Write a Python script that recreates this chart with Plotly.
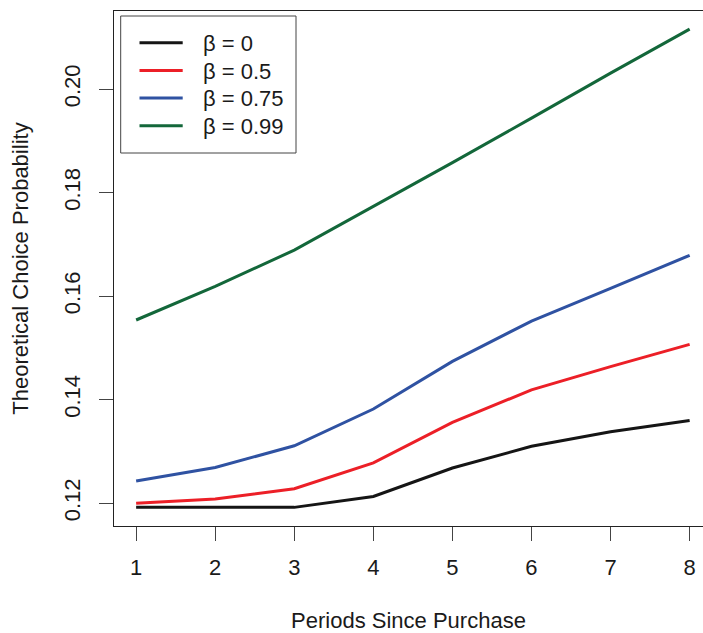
import plotly.graph_objects as go

periods = [1, 2, 3, 4, 5, 6, 7, 8]
beta_labels = ["β = 0", "β = 0.5", "β = 0.75", "β = 0.99"]
beta_0 = [0.1192, 0.1192, 0.1192, 0.1213, 0.1268, 0.1310, 0.1338, 0.1360]
beta_05 = [0.1200, 0.1208, 0.1228, 0.1278, 0.1356, 0.1419, 0.1464, 0.1507]
beta_075 = [0.1243, 0.1269, 0.1311, 0.1382, 0.1474, 0.1552, 0.1615, 0.1679]
beta_099 = [0.1554, 0.1619, 0.1689, 0.1773, 0.1858, 0.1944, 0.2031, 0.2116]
series = [beta_0, beta_05, beta_075, beta_099]
colors = ["#151515", "#ec1f27", "#2f52a2", "#13673a"]
y_ticks = [0.12, 0.14, 0.16, 0.18, 0.20]
y_ticklabels = ["0.12", "0.14", "0.16", "0.18", "0.20"]

FONT = "Liberation Sans, Arial, Helvetica, sans-serif"

W, H = 703, 633
ML, MR, MT, MB = 114, 0, 11, 107
PW, PH = W - ML - MR, H - MT - MB


def px(xp):
    return (xp - ML) / PW


def py(yp):
    return (H - MB - yp) / PH


fig = go.Figure()
for vals, name, col in zip(series, beta_labels, colors):
    fig.add_trace(go.Scatter(x=periods, y=vals, mode="lines", name=name,
                             line=dict(color=col, width=3), showlegend=False))

# legend drawn as shapes + text (paper coordinates)
shapes = [dict(type="rect", xref="paper", yref="paper",
               x0=px(120.7), x1=px(296), y0=py(153), y1=py(16),
               line=dict(color="#444444", width=1), fillcolor="white",
               layer="above")]
annotations = []
row_y = [42.7, 70.5, 98, 125.8]
for name, col, ry in zip(beta_labels, colors, row_y):
    shapes.append(dict(type="line", xref="paper", yref="paper",
                       x0=px(139.5), x1=px(182.7), y0=py(ry), y1=py(ry),
                       line=dict(color=col, width=3), layer="above"))
    annotations.append(dict(xref="paper", yref="paper", x=px(201), y=py(ry + 1),
                            text=name, showarrow=False, xanchor="left",
                            yanchor="middle",
                            font=dict(size=22, color="#1a1a1a", family=FONT)))

fig.update_layout(
    width=W, height=H,
    margin=dict(l=ML, r=MR, t=MT, b=MB),
    paper_bgcolor="white", plot_bgcolor="white",
    font=dict(family=FONT, size=22, color="#1a1a1a"),
    showlegend=False,
    shapes=shapes,
    annotations=annotations,
    xaxis=dict(range=[0.72, 8.169], tickmode="array", tickvals=periods,
               ticktext=[str(p) for p in periods],
               showgrid=False, zeroline=False,
               showline=True, linecolor="#222222", linewidth=1, mirror=True,
               ticks="outside", ticklen=14, tickcolor="#444444", tickwidth=1,
               ticklabelstandoff=8,
               title=dict(text="Periods Since Purchase", standoff=34,
                          font=dict(size=22))),
    yaxis=dict(range=[0.1156, 0.2151], tickmode="array", tickvals=y_ticks,
               ticktext=y_ticklabels, tickangle=-90,
               showgrid=False, zeroline=False,
               showline=True, linecolor="#222222", linewidth=1, mirror=False,
               ticks="outside", ticklen=14, tickcolor="#444444", tickwidth=1,
               ticklabelstandoff=10,
               title=dict(text="Theoretical Choice Probability", standoff=25,
                          font=dict(size=22))),
)

fig.write_html("out.html")
